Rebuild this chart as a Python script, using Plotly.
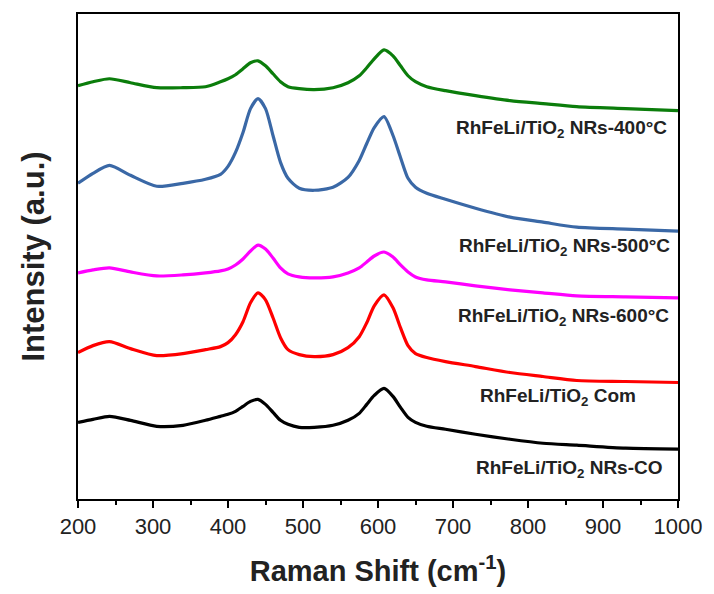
import plotly.graph_objects as go

# Raman shift positions (cm-1)
shift = [200, 220, 242, 270, 305, 340, 370, 390, 400, 410, 420, 430, 440, 450, 460, 470,
         480, 495, 515, 540, 560, 575, 585, 595, 608, 620, 630, 640, 650, 665, 690, 730,
         776, 820, 865, 930, 1000]

# Intensities (a.u., stacked offsets as drawn)
i_400 = [415, 419, 422, 418, 413, 413, 414, 419, 422, 426, 432, 438, 440, 435, 427, 419,
         414, 412, 411, 413, 418, 425, 433, 442, 451, 445, 435, 425, 419, 414, 410, 405,
         400, 397, 394, 392, 390]
i_500 = [317, 327, 335, 325, 314, 317, 321, 326, 334, 348, 368, 392, 402, 392, 365, 338,
         322, 312, 310, 313, 323, 340, 357, 373, 384, 365, 343, 322, 313, 307, 301, 292,
         283, 278, 273, 271, 269]
i_600 = [227, 230, 232, 228, 224, 225, 227, 229, 231, 235, 241, 249, 255, 251, 242, 232,
         226, 223, 222, 223, 227, 232, 238, 244, 248, 243, 235, 228, 223, 220, 218, 214,
         210, 207, 204, 203, 202]
i_com = [147, 154, 158, 151, 144, 146, 150, 153, 157, 165, 178, 197, 207, 200, 182, 162,
         150, 145, 143, 145, 152, 163, 177, 194, 205, 192, 172, 154, 146, 142, 138, 133,
         127, 123, 119, 118, 117]
i_co = [77, 80, 83, 79, 73, 74, 79, 83, 85, 88, 93, 98, 100, 95, 87, 79,
        75, 72, 72, 74, 79, 86, 95, 104, 111, 103, 92, 82, 77, 73, 70, 65,
        60, 56, 54, 51, 50]

series = [
    ("RhFeLi/TiO<sub>2</sub> NRs-400°C", i_400, "#0B7D0B"),
    ("RhFeLi/TiO<sub>2</sub> NRs-500°C", i_500, "#3A68A6"),
    ("RhFeLi/TiO<sub>2</sub> NRs-600°C", i_600, "#FF00FF"),
    ("RhFeLi/TiO<sub>2</sub> Com", i_com, "#FF0000"),
    ("RhFeLi/TiO<sub>2</sub> NRs-CO", i_co, "#000000"),
]

# label right-edge positions (data units)
label_x = [988, 992, 990, 946, 983]
label_y = [372, 253, 183, 102, 30]

FONT = "Liberation Sans, Arial, sans-serif"

fig = go.Figure()
for name, vals, col in series:
    fig.add_trace(go.Scatter(x=shift, y=vals, mode="lines", name=name,
                             line=dict(color=col, width=3.2, shape="spline", smoothing=0.7),
                             showlegend=False))

for (name, vals, col), lx, ly in zip(series, label_x, label_y):
    fig.add_annotation(x=lx, y=ly, xref="x", yref="y", text="<b>" + name + "</b>",
                       showarrow=False, font=dict(family=FONT, size=19, color="#222222"),
                       xanchor="right", yanchor="middle")

fig.update_layout(
    width=714, height=594,
    margin=dict(l=78, r=31, t=13, b=94),
    paper_bgcolor="white", plot_bgcolor="white",
    font=dict(family=FONT, color="black"),
)
fig.update_xaxes(
    range=[200, 1000], tickvals=[200, 300, 400, 500, 600, 700, 800, 900, 1000],
    ticks="outside", ticklen=7, tickwidth=2, tickcolor="black",
    minor=dict(dtick=50, ticks="outside", ticklen=4, tickwidth=2, tickcolor="black"),
    showline=True, linecolor="black", linewidth=2, mirror=True,
    showgrid=False, zeroline=False,
    tickfont=dict(family=FONT, size=22, color="#222222"),
    title=dict(text="<b>Raman Shift (cm<sup>-1</sup>)</b>",
               font=dict(family=FONT, size=29, color="#222222"), standoff=22),
)
fig.update_yaxes(
    range=[0, 487], showticklabels=False, ticks="",
    showline=True, linecolor="black", linewidth=2, mirror=True,
    showgrid=False, zeroline=False,
    title=dict(text="<b>Intensity (a.u.)</b>",
               font=dict(family=FONT, size=31, color="#222222"), standoff=22),
)

fig.write_html("out.html")
